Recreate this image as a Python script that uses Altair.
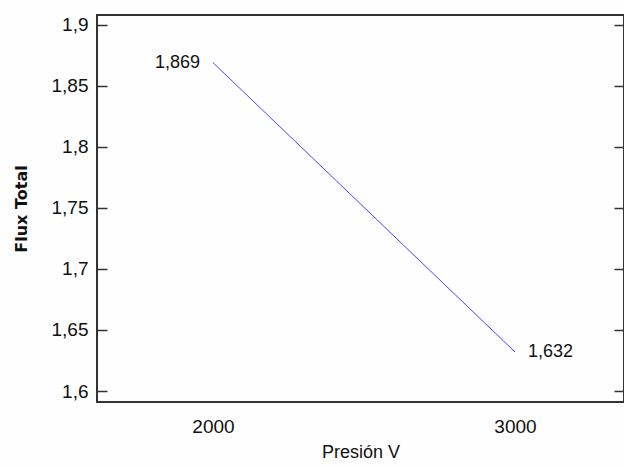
import altair as alt
import pandas as pd

# Flux total versus pressure
presion = [2000, 3000]
flux = [1.869, 1.632]
etiquetas = ["1,869", "1,632"]
y_ticks = [1.6, 1.65, 1.7, 1.75, 1.8, 1.85, 1.9]
x_ticks = [2000, 3000]

df = pd.DataFrame({"presion": presion, "flux": flux, "etiqueta": etiquetas})

FONT = "Liberation Sans, Arial"
TITLE_FONT = "DejaVu Sans"
comma_expr = "replace(toString(datum.value), '.', ',')"

x_scale = alt.Scale(domain=[1616, 3361], nice=False, zero=False)
y_scale = alt.Scale(domain=[1.591, 1.908], nice=False, zero=False)

x_enc = alt.X(
    "presion:Q",
    scale=x_scale,
    axis=alt.Axis(
        values=x_ticks, format="d", title="Presión V", ticks=False, domain=False,
        grid=False, labelPadding=15, labelFontSize=19, labelFont=FONT,
        labelColor="#111", titleFont=FONT, titleFontSize=18, titleFontWeight="normal",
        titleColor="#111", titlePadding=7,
    ),
)

line = alt.Chart(df).mark_line(color="#4646ff", strokeWidth=1).encode(
    x=x_enc,
    y=alt.Y(
        "flux:Q",
        scale=y_scale,
        axis=alt.Axis(
            values=y_ticks, labelExpr=comma_expr, offset=-10, tickSize=10,
            tickColor="#333", tickWidth=1.5, domain=False, grid=False,
            labelPadding=9, labelFontSize=19, labelFont=FONT, labelColor="#111",
            title="Flux Total", titleFont=TITLE_FONT, titleFontSize=16,
            titleFontWeight="bold", titleColor="#111", titlePadding=22,
        ),
    ),
)

y_right = alt.Y(
    "flux:Q",
    scale=y_scale,
    axis=alt.Axis(
        orient="right", values=y_ticks, labels=False, offset=-10, tickSize=10,
        tickColor="#333", tickWidth=1.5, domain=False, grid=False, title=None,
    ),
)

text_left = alt.Chart(df).transform_filter("datum.presion == 2000").mark_text(
    align="right", baseline="middle", dx=-13, fontSize=18, font=FONT, color="#111"
).encode(x=alt.X("presion:Q", scale=x_scale), y=y_right, text="etiqueta:N")

text_right = alt.Chart(df).transform_filter("datum.presion == 3000").mark_text(
    align="left", baseline="middle", dx=13, fontSize=18, font=FONT, color="#111"
).encode(x=alt.X("presion:Q", scale=x_scale), y=alt.Y("flux:Q", scale=y_scale), text="etiqueta:N")

chart = (
    alt.layer(line, alt.layer(text_left, text_right))
    .resolve_scale(y="independent")
    .properties(
        width=527,
        height=387,
        autosize=alt.AutoSizeParams(type="none"),
        padding={"left": 97, "top": 15, "right": 0, "bottom": 65},
        background="#fefefe",
    )
    .configure_view(stroke="#333", strokeWidth=2)
)

chart.save("out.html", embed_options={"renderer": "svg", "actions": False})
